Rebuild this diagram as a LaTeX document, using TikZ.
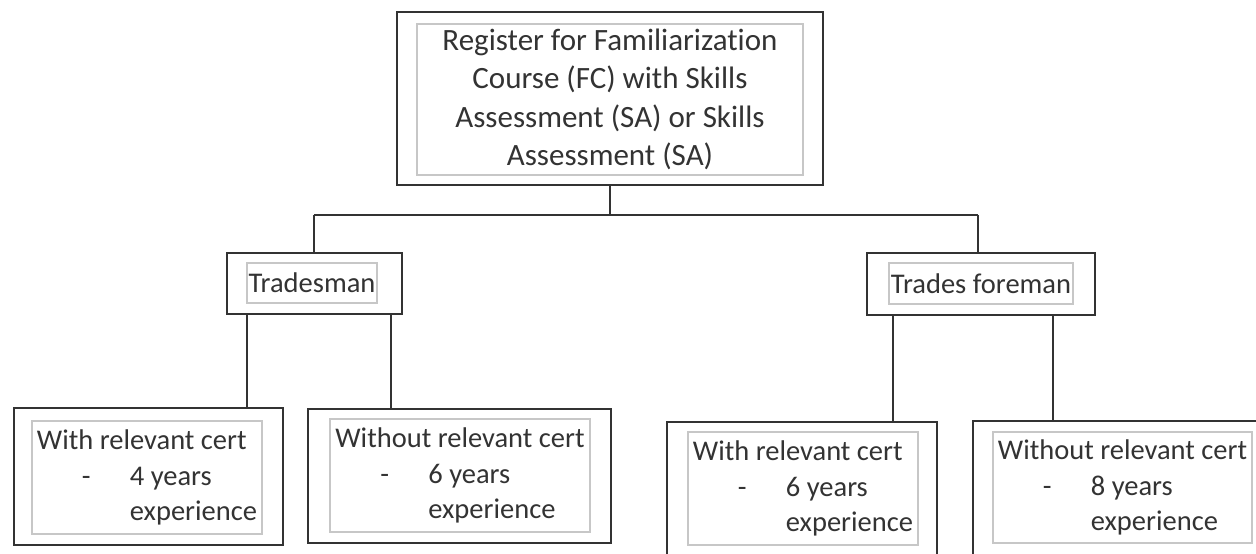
\documentclass[tikz,border=0pt]{standalone}
\usepackage{fontspec}
\setmainfont{Carlito}[Ligatures=NoCommon]
\newcommand\lstitem[1]{\makebox[93pt][l]{\hspace*{45pt}-}#1}
\newcommand\lstcont[1]{\hspace*{93pt}#1}
\tikzset{
  outerbox/.style={draw=black!80, line width=2pt, rectangle, inner sep=0pt},
  innerbox/.style={draw=black!22, line width=1.5pt, rectangle, inner sep=0pt, text=black!80, align=center},
  conn/.style={draw=black!80, line width=2pt},
  topfont/.style={font=\fontsize{31}{38.5}\selectfont},
  smallfont/.style={font=\fontsize{28.5}{35.5}\selectfont},
}
\begin{document}
\begin{tikzpicture}[x=1pt,y=-1pt]
\useasboundingbox (0,0) rectangle (1256,554);
\fill[white] (0,0) rectangle (1256,554);
\clip (0,0) rectangle (1256,554);

% top
\node[outerbox, minimum width=426pt, minimum height=173pt] (reg) at (610,98.5) {};
\node[innerbox, topfont, minimum width=386pt, minimum height=151pt] (regin) at (610,99.5)
  {Register for Familiarization\\Course (FC) with Skills\\Assessment (SA) or Skills\\Assessment (SA)};

% second level
\node[outerbox, minimum width=175pt, minimum height=61pt] (trade) at (314.5,283.5) {};
\node[innerbox, smallfont, minimum width=130pt, minimum height=40pt] (tradein) at (312,283) {Tradesman};

\node[outerbox, minimum width=228pt, minimum height=62pt] (fore) at (981,284) {};
\node[innerbox, smallfont, minimum width=184pt, minimum height=41pt] (forein) at (981,283.5) {Trades foreman};

% third level
\node[outerbox, minimum width=269pt, minimum height=137pt] (b1) at (148.5,476.5) {};
\node[innerbox, smallfont, align=left, minimum width=230pt, minimum height=113pt] (b1in) at (147,477.5)
  {With relevant cert\\\lstitem{4 years}\\\lstcont{experience}};

\node[outerbox, minimum width=303pt, minimum height=134pt] (b2) at (459.5,476) {};
\node[innerbox, smallfont, align=left, minimum width=260pt, minimum height=113pt] (b2in) at (460,475.5)
  {Without relevant cert\\\lstitem{6 years}\\\lstcont{experience}};

\node[outerbox, minimum width=270pt, minimum height=138pt] (b3) at (802,491) {};
\node[innerbox, smallfont, align=left, minimum width=230pt, minimum height=113pt] (b3in) at (803,488.5)
  {With relevant cert\\\lstitem{6 years}\\\lstcont{experience}};

\node[outerbox, minimum width=303pt, minimum height=139pt] (b4) at (1124.5,490.5) {};
\node[innerbox, smallfont, align=left, minimum width=259pt, minimum height=111pt] (b4in) at (1122.5,487.5)
  {Without relevant cert\\\lstitem{8 years}\\\lstcont{experience}};

% connectors
\coordinate (hub) at (610,215);
\coordinate (hl) at (314,215);
\coordinate (hr) at (978,215);
\draw[conn] (reg.south) -- (hub);
\draw[conn] (hl) -- (hr);
\draw[conn] (hl) -- (hl |- trade.north);
\draw[conn] (hr) -- (hr |- fore.north);

\draw[conn] ([xshift=-67.5pt]trade.south) coordinate (t1) -- (t1 |- b1.north);
\draw[conn] ([xshift=76.5pt]trade.south) coordinate (t2) -- (t2 |- b2.north);
\draw[conn] ([xshift=-88pt]fore.south) coordinate (f1) -- (f1 |- b3.north);
\draw[conn] ([xshift=72pt]fore.south) coordinate (f2) -- (f2 |- b4.north);
\end{tikzpicture}
\end{document}
